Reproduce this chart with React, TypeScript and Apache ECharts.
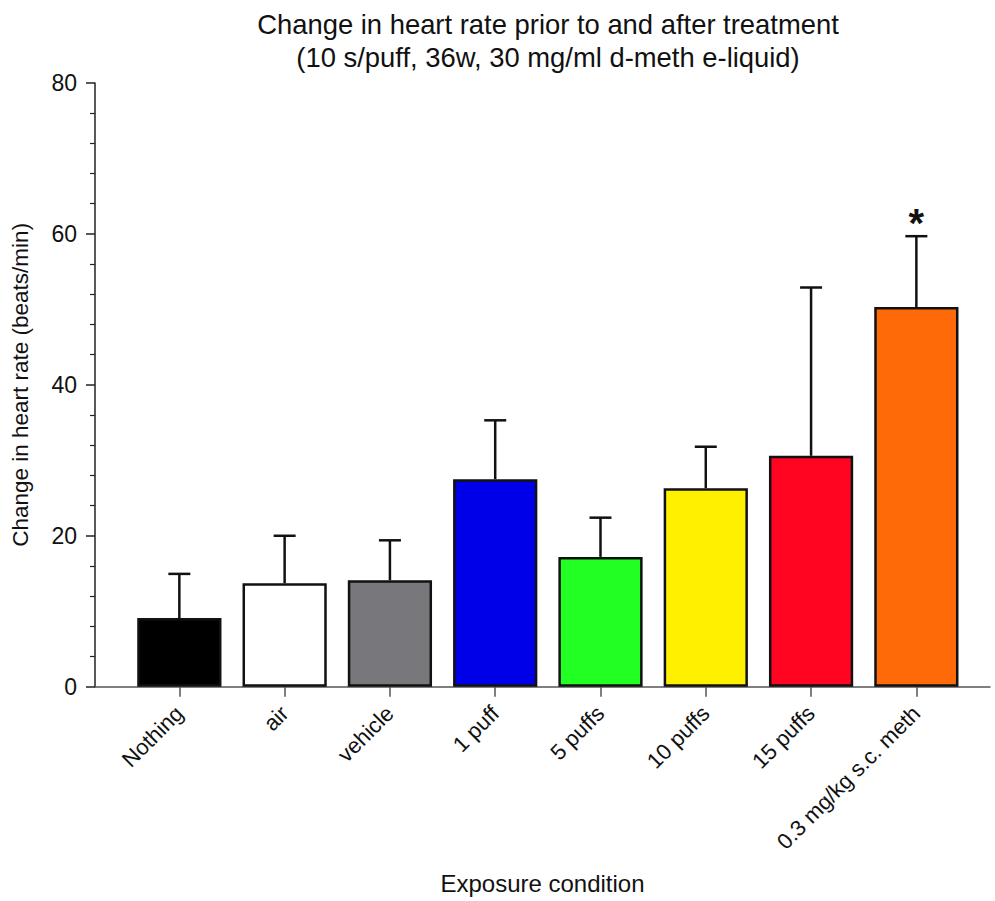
import React, { useEffect, useRef } from "react";
import * as echarts from "echarts";

const categories = ["Nothing", "air", "vehicle", "1 puff", "5 puffs", "10 puffs", "15 puffs", "0.3 mg/kg s.c. meth"];
const means = [9.1, 13.7, 14.1, 27.5, 17.2, 26.3, 30.6, 50.3];
const errTops = [14.95, 20.0, 19.4, 35.3, 22.4, 31.8, 52.9, 59.7];
const significance = ["", "", "", "", "", "", "", "*"];
const barColors = ["#000000", "#ffffff", "#78777c", "#0000e8", "#22ff22", "#fff000", "#ff0522", "#ff6a08"];
const yTicks = [0, 20, 40, 60, 80];

const FONT = "'Liberation Sans', Arial, Helvetica, sans-serif";

export default function App() {
  const ref = useRef<HTMLDivElement>(null);
  useEffect(() => {
    if (!ref.current) return;
    const chart = echarts.init(ref.current, null, { renderer: "svg" });
    const top = 83;
    const bottom = 214.3;
    chart.setOption({
      animation: false,
      backgroundColor: "#ffffff",
      textStyle: { fontFamily: FONT },
      title: {
        text: "Change in heart rate prior to and after treatment\n(10 s/puff, 36w, 30 mg/ml d-meth e-liquid)",
        left: 543,
        textAlign: "center",
        top: 3,
        textStyle: { fontFamily: FONT, fontSize: 27.4, fontWeight: "normal", color: "#111", lineHeight: 33 },
      },
      grid: [
        { left: 95, right: 5, top, bottom },
        { left: 126.7, right: 26, top, bottom },
      ],
      xAxis: [
        {
          type: "value",
          gridIndex: 0,
          min: 0,
          max: 1,
          axisLine: { show: true, lineStyle: { color: "#555", width: 1.5 } },
          axisTick: { show: false },
          axisLabel: { show: false },
          splitLine: { show: false },
          name: "Exposure condition",
          nameLocation: "middle",
          nameGap: 185,
          nameTextStyle: { fontFamily: FONT, fontSize: 24, color: "#111" },
        },
        {
          type: "category",
          gridIndex: 1,
          data: categories,
          axisLine: { show: false },
          axisTick: { show: true, alignWithLabel: true, length: 10, lineStyle: { color: "#555", width: 1.5 } },
          axisLabel: { rotate: 45, fontSize: 22, color: "#111", margin: 23, interval: 0, fontFamily: FONT },
          splitLine: { show: false },
        },
      ],
      yAxis: [
        {
          type: "value",
          gridIndex: 0,
          min: yTicks[0],
          max: yTicks[yTicks.length - 1],
          interval: 20,
          axisLine: { show: true, lineStyle: { color: "#222", width: 1.5 } },
          axisTick: { show: true, length: 9, lineStyle: { color: "#222", width: 1.5 } },
          minorTick: { show: true, splitNumber: 5, length: 5, lineStyle: { color: "#222", width: 1.2 } },
          axisLabel: { fontSize: 23, color: "#111", margin: 18, fontFamily: FONT },
          splitLine: { show: false },
          name: "Change in heart rate (beats/min)",
          nameLocation: "middle",
          nameGap: 63,
          nameTextStyle: { fontFamily: FONT, fontSize: 22.5, color: "#111" },
        },
        {
          type: "value",
          gridIndex: 1,
          min: yTicks[0],
          max: yTicks[yTicks.length - 1],
          show: false,
          splitLine: { show: false },
        },
      ],
      series: [
        {
          type: "bar",
          xAxisIndex: 1,
          yAxisIndex: 1,
          barWidth: "80%",
          data: means.map((v, i) => ({
            value: v,
            itemStyle: { color: barColors[i], borderColor: "#111", borderWidth: 2.5 },
          })),
          z: 2,
        },
        {
          type: "custom",
          xAxisIndex: 1,
          yAxisIndex: 1,
          z: 1,
          data: means.map((m, i) => [i, m, errTops[i]]),
          renderItem: (params: any, api: any) => {
            const i = api.value(0);
            const p0 = api.coord([i, api.value(1)]);
            const p1 = api.coord([i, api.value(2)]);
            const cap = 11;
            const style = { stroke: "#111", lineWidth: 2.5 };
            const children: any[] = [
              { type: "line", shape: { x1: p0[0], y1: p0[1], x2: p1[0], y2: p1[1] }, style },
              { type: "line", shape: { x1: p1[0] - cap, y1: p1[1], x2: p1[0] + cap, y2: p1[1] }, style },
            ];
            const sig = significance[params.dataIndex];
            if (sig) {
              children.push({
                type: "text",
                x: p1[0],
                y: p1[1] + 7,
                style: {
                  text: sig,
                  fontSize: 40,
                  fontWeight: "bold",
                  fontFamily: FONT,
                  fill: "#111",
                  align: "center",
                  verticalAlign: "bottom",
                },
              });
            }
            return { type: "group", children };
          },
        },
      ],
    });
    return () => chart.dispose();
  }, []);
  return <div ref={ref} style={{ position: "fixed", left: 0, top: 0, width: 995, height: 901 }} />;
}
